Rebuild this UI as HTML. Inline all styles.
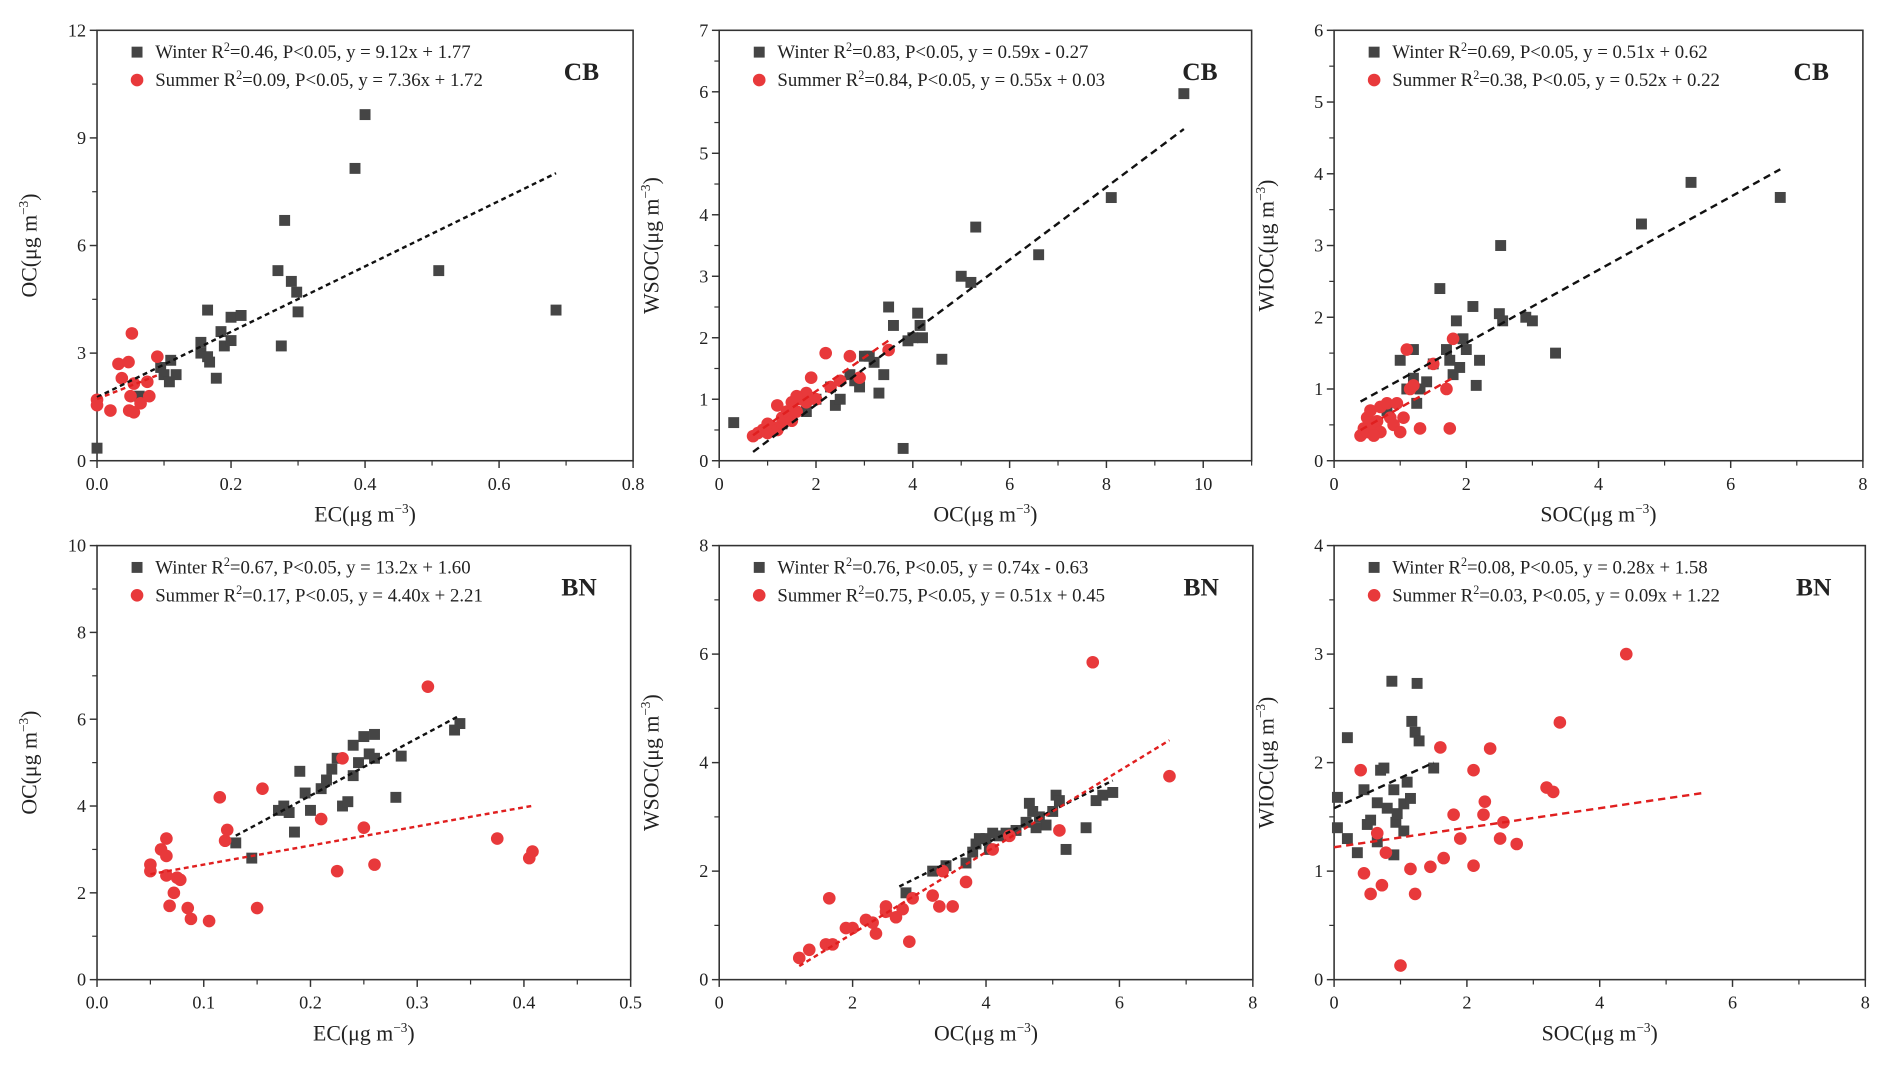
<!DOCTYPE html>
<html><head><meta charset="utf-8">
<style>
html,body{margin:0;padding:0;background:#fff;overflow:hidden}
#wrap{width:1560px;height:885px;transform-origin:0 0;transform:scale(1.21282,1.21243)}
svg text{font-family:"Liberation Serif",serif;fill:#222}
</style></head>
<body>
<div id="wrap">
<svg id="chart" width="1560" height="885" xmlns="http://www.w3.org/2000/svg"></svg>
</div>
<script>
// Panel 1 (CB OC vs EC)
const p1WinterX=[0.0,0.063,0.095,0.1,0.11,0.108,0.118,0.155,0.155,0.165,0.168,0.165,0.178,0.185,0.19,0.2,0.2,0.215,0.27,0.275,0.28,0.29,0.298,0.3,0.385,0.4,0.51,0.685];
const p1WinterY=[0.35,1.8,2.6,2.4,2.8,2.2,2.4,3.3,3.0,2.9,2.75,4.2,2.3,3.6,3.2,3.35,4.0,4.05,5.3,3.2,6.7,5.0,4.7,4.15,8.15,9.65,5.3,4.2];
const p1SummerX=[0.0,0.0,0.02,0.032,0.037,0.047,0.048,0.05,0.052,0.055,0.055,0.065,0.075,0.078,0.09];
const p1SummerY=[1.7,1.55,1.4,2.7,2.3,2.75,1.4,1.8,3.55,2.15,1.35,1.6,2.2,1.8,2.9];
const p1Fit=[[9.12,1.77,0,0.685],[7.36,1.72,0,0.09]];
// Panel 2 (CB WSOC vs OC)
const p2WinterX=[0.3,1.3,1.8,2.0,2.3,2.4,2.5,2.7,2.8,2.9,3.0,3.1,3.2,3.3,3.4,3.5,3.6,3.8,3.9,4.0,4.1,4.15,4.2,4.6,5.0,5.2,5.3,6.6,8.1,9.6];
const p2WinterY=[0.62,0.6,0.8,1.0,1.2,0.9,1.0,1.4,1.3,1.2,1.7,1.7,1.6,1.1,1.4,2.5,2.2,0.2,1.95,2.0,2.4,2.2,2.0,1.65,3.0,2.9,3.8,3.35,4.28,5.97];
const p2SummerX=[0.7,0.8,0.9,1.0,1.0,1.1,1.2,1.3,1.3,1.4,1.5,1.5,1.6,1.7,1.8,1.8,1.9,2.0,2.2,2.3,2.5,2.7,2.9,3.5,1.2,1.6];
const p2SummerY=[0.4,0.45,0.5,0.6,0.45,0.55,0.5,0.6,0.7,0.8,0.65,0.95,0.8,1.0,1.1,0.95,1.35,1.0,1.75,1.2,1.3,1.7,1.35,1.8,0.9,1.05];
const p2Fit=[[0.59,-0.27,0.7,9.6],[0.55,0.03,0.7,3.5]];
// Panel 3 (CB WIOC vs SOC)
const p3WinterX=[1.0,1.1,1.2,1.25,1.3,1.4,1.5,1.6,1.7,1.75,1.8,1.85,1.9,1.95,2.0,2.1,2.15,2.2,2.5,2.52,2.55,2.9,3.0,3.35,4.65,5.4,6.75,0.8,1.2];
const p3WinterY=[1.4,1.0,1.55,0.8,1.0,1.1,1.35,2.4,1.55,1.4,1.2,1.95,1.3,1.7,1.55,2.15,1.05,1.4,2.05,3.0,1.95,2.0,1.95,1.5,3.3,3.88,3.67,0.7,1.15];
const p3SummerX=[0.4,0.45,0.5,0.5,0.55,0.6,0.65,0.7,0.7,0.8,0.85,0.9,0.95,1.0,1.05,1.1,1.15,1.2,1.3,1.5,1.7,1.75,1.8,0.6];
const p3SummerY=[0.35,0.45,0.6,0.4,0.7,0.5,0.55,0.4,0.75,0.8,0.6,0.5,0.8,0.4,0.6,1.55,1.0,1.05,0.45,1.35,1.0,0.45,1.7,0.35];
const p3Fit=[[0.51,0.62,0.4,6.75],[0.52,0.22,0.4,1.8]];
// Panel 4 (BN OC vs EC)
const p4WinterX=[0.13,0.145,0.17,0.175,0.18,0.185,0.19,0.195,0.2,0.21,0.22,0.225,0.23,0.235,0.24,0.24,0.245,0.25,0.255,0.26,0.26,0.28,0.285,0.335,0.34,0.215];
const p4WinterY=[3.15,2.8,3.9,4.0,3.85,3.4,4.8,4.3,3.9,4.4,4.85,5.1,4.0,4.1,4.7,5.4,5.0,5.6,5.2,5.65,5.1,4.2,5.15,5.75,5.9,4.6];
const p4SummerX=[0.05,0.05,0.06,0.065,0.065,0.065,0.068,0.072,0.075,0.078,0.085,0.088,0.105,0.115,0.12,0.122,0.15,0.155,0.21,0.225,0.23,0.25,0.26,0.31,0.375,0.405,0.408];
const p4SummerY=[2.65,2.5,3.0,3.25,2.85,2.4,1.7,2.0,2.35,2.3,1.65,1.4,1.35,4.2,3.2,3.45,1.65,4.4,3.7,2.5,5.1,3.5,2.65,6.75,3.25,2.8,2.95];
const p4Fit=[[13.2,1.60,0.13,0.34],[4.40,2.21,0.05,0.41]];
// Panel 5 (BN WSOC vs OC)
const p5WinterX=[2.8,3.2,3.4,3.7,3.8,3.85,3.9,4.0,4.05,4.1,4.2,4.3,4.45,4.6,4.65,4.7,4.8,4.9,5.0,5.05,5.1,5.2,5.5,5.65,5.75,5.9,4.75];
const p5WinterY=[1.6,2.0,2.1,2.15,2.35,2.5,2.6,2.6,2.4,2.7,2.65,2.7,2.75,2.9,3.25,3.1,3.0,2.85,3.1,3.4,3.3,2.4,2.8,3.3,3.4,3.45,2.8];
const p5SummerX=[1.2,1.35,1.6,1.65,1.7,2.0,2.2,2.3,2.35,2.5,2.5,2.65,2.75,2.85,2.9,3.2,3.3,3.35,3.5,3.7,4.1,4.35,5.1,5.6,6.75,1.9];
const p5SummerY=[0.4,0.55,0.65,1.5,0.65,0.95,1.1,1.05,0.85,1.35,1.25,1.15,1.3,0.7,1.5,1.55,1.35,2.0,1.35,1.8,2.4,2.65,2.75,5.85,3.75,0.95];
const p5Fit=[[0.61,0.07,2.7,5.9],[0.75,-0.65,1.2,6.75]];
// Panel 6 (BN WIOC vs SOC)
const p6WinterX=[0.05,0.05,0.2,0.2,0.35,0.45,0.5,0.55,0.65,0.65,0.7,0.75,0.8,0.87,0.9,0.9,0.93,0.95,1.05,1.05,1.1,1.15,1.17,1.22,1.25,1.28,1.5];
const p6WinterY=[1.68,1.4,2.23,1.3,1.17,1.75,1.43,1.47,1.63,1.27,1.93,1.95,1.58,2.75,1.15,1.75,1.45,1.53,1.37,1.62,1.82,1.67,2.38,2.28,2.73,2.2,1.95];
const p6SummerX=[0.4,0.45,0.55,0.65,0.72,0.78,1.0,1.15,1.22,1.45,1.65,1.6,1.8,1.9,2.1,2.1,2.25,2.27,2.35,2.5,2.55,2.75,3.2,3.3,3.4,4.4];
const p6SummerY=[1.93,0.98,0.79,1.35,0.87,1.17,0.13,1.02,0.79,1.04,1.12,2.14,1.52,1.3,1.05,1.93,1.52,1.64,2.13,1.3,1.45,1.25,1.77,1.73,2.37,3.0];
const p6Fit=[[0.28,1.58,0,1.5],[0.09,1.22,0,5.6]];

const xTicks1=["0.0","0.2","0.4","0.6","0.8"], yTicks1=["0","3","6","9","12"];
const xTicks2=["0","2","4","6","8","10"], yTicks2=["0","1","2","3","4","5","6","7"];
const xTicks3=["0","2","4","6","8"], yTicks3=["0","1","2","3","4","5","6"];
const xTicks4=["0.0","0.1","0.2","0.3","0.4","0.5"], yTicks4=["0","2","4","6","8","10"];
const xTicks5=["0","2","4","6","8"], yTicks5=["0","2","4","6","8"];
const xTicks6=["0","2","4","6","8"], yTicks6=["0","1","2","3","4"];

const NS="http://www.w3.org/2000/svg";
const svg=document.getElementById('chart');
function mk(tag,attrs,parent){const e=document.createElementNS(NS,tag);for(const k in attrs)e.setAttribute(k,attrs[k]);(parent||svg).appendChild(e);return e;}

const panels=[
 {id:'cb-oc-ec',x0:80,x1:522,yb:380,yt:25,xmax:0.8,ymax:12,xt:xTicks1,yt2:yTicks1,wx:p1WinterX,wy:p1WinterY,sx:p1SummerX,sy:p1SummerY,fit:p1Fit,dash:'4,3',xl:'EC',yl:'OC',site:'CB',
  leg:['Winter R','=0.46, P<0.05, y = 9.12x + 1.77','Summer R','=0.09, P<0.05, y = 7.36x + 1.72']},
 {id:'cb-wsoc-oc',x0:593,x1:1032,yb:380,yt:25,xmax:11,ymax:7,xt:xTicks2,yt2:yTicks2,wx:p2WinterX,wy:p2WinterY,sx:p2SummerX,sy:p2SummerY,fit:p2Fit,dash:'6,4',xl:'OC',yl:'WSOC',site:'CB',xstep:2,
  leg:['Winter R','=0.83, P<0.05, y = 0.59x - 0.27','Summer R','=0.84, P<0.05, y = 0.55x + 0.03']},
 {id:'cb-wioc-soc',x0:1100,x1:1536,yb:380,yt:25,xmax:8,ymax:6,xt:xTicks3,yt2:yTicks3,wx:p3WinterX,wy:p3WinterY,sx:p3SummerX,sy:p3SummerY,fit:p3Fit,dash:'6,4',xl:'SOC',yl:'WIOC',site:'CB',
  leg:['Winter R','=0.69, P<0.05, y = 0.51x + 0.62','Summer R','=0.38, P<0.05, y = 0.52x + 0.22']},
 {id:'bn-oc-ec',x0:80,x1:520,yb:808,yt:450,xmax:0.5,ymax:10,xt:xTicks4,yt2:yTicks4,wx:p4WinterX,wy:p4WinterY,sx:p4SummerX,sy:p4SummerY,fit:p4Fit,dash:'4,3',xl:'EC',yl:'OC',site:'BN',
  leg:['Winter R','=0.67, P<0.05, y = 13.2x + 1.60','Summer R','=0.17, P<0.05, y = 4.40x + 2.21']},
 {id:'bn-wsoc-oc',x0:593,x1:1033,yb:808,yt:450,xmax:8,ymax:8,xt:xTicks5,yt2:yTicks5,wx:p5WinterX,wy:p5WinterY,sx:p5SummerX,sy:p5SummerY,fit:p5Fit,dash:'4,3',xl:'OC',yl:'WSOC',site:'BN',
  leg:['Winter R','=0.76, P<0.05, y = 0.74x - 0.63','Summer R','=0.75, P<0.05, y = 0.51x + 0.45']},
 {id:'bn-wioc-soc',x0:1100,x1:1538,yb:808,yt:450,xmax:8,ymax:4,xt:xTicks6,yt2:yTicks6,wx:p6WinterX,wy:p6WinterY,sx:p6SummerX,sy:p6SummerY,fit:p6Fit,dash:'6,4',xl:'SOC',yl:'WIOC',site:'BN',
  leg:['Winter R','=0.08, P<0.05, y = 0.28x + 1.58','Summer R','=0.03, P<0.05, y = 0.09x + 1.22']}
];

panels.forEach(p=>{
 const g=mk('g',{});
 
 
 const xs=v=>p.x0+(p.x1-p.x0)*v/p.xmax;
 const ys=v=>p.yb-(p.yb-p.yt)*v/p.ymax;
 const frame=mk('rect',{x:p.x0,y:p.yt,width:p.x1-p.x0,height:p.yb-p.yt,fill:'none',stroke:'#333','stroke-width':1.3},g);
 
 
 // x ticks
 const xstep=parseFloat(p.xt[1])-parseFloat(p.xt[0]);
 p.xt.forEach((t,i)=>{
  const v=parseFloat(t), X=xs(v);
  mk('line',{x1:X,x2:X,y1:p.yb,y2:p.yb+6,stroke:'#333','stroke-width':1.2},g);
  const mv=v+xstep/2;
  if(mv<=p.xmax+1e-9){const MX=xs(mv);mk('line',{x1:MX,x2:MX,y1:p.yb,y2:p.yb+4,stroke:'#333','stroke-width':1},g);}
  const tx=mk('text',{x:X,y:p.yb+24,'font-size':15,'text-anchor':'middle'},g);tx.textContent=t;
  
  
 });
 const ystep=parseFloat(p.yt2[1])-parseFloat(p.yt2[0]);
 p.yt2.forEach(t=>{
  const v=parseFloat(t), Y=ys(v);
  mk('line',{x1:p.x0-6,x2:p.x0,y1:Y,y2:Y,stroke:'#333','stroke-width':1.2},g);
  const mv=v+ystep/2;
  if(mv<=p.ymax+1e-9){const MY=ys(mv);mk('line',{x1:p.x0-4,x2:p.x0,y1:MY,y2:MY,stroke:'#333','stroke-width':1},g);}
  const tx=mk('text',{x:p.x0-9,y:Y+5,'font-size':15,'text-anchor':'end'},g);tx.textContent=t;
  
  
 });
 // axis titles
 const xt=mk('text',{x:(p.x0+p.x1)/2,y:p.yb+50,'font-size':18,'text-anchor':'middle'},g);
 xt.innerHTML=p.xl+'(μg m<tspan dy="-7" font-size="11">−3</tspan><tspan dy="7">)</tspan>';
 
 
 const cy=(p.yb+p.yt)/2, cx=p.x0-50;
 const yt=mk('text',{x:cx,y:cy,'font-size':18,'text-anchor':'middle',transform:`rotate(-90 ${cx} ${cy})`},g);
 yt.innerHTML=p.yl+'(μg m<tspan dy="-7" font-size="11">−3</tspan><tspan dy="7">)</tspan>';
 
 
 // points
 p.wx.forEach((v,i)=>{
  const r=mk('rect',{x:xs(v)-4.5,y:ys(p.wy[i])-4.5,width:9,height:9,fill:'#454545'},g);
  
  
 });
 p.sx.forEach((v,i)=>{
  const c=mk('circle',{cx:xs(v),cy:ys(p.sy[i]),r:5.2,fill:'#e8393b'},g);
  
  
 });
 // fits
 p.fit.forEach((f,k)=>{
  const [m,b,a,z]=f;
  const l=mk('line',{x1:xs(a),y1:ys(m*a+b),x2:xs(z),y2:ys(m*z+b),stroke:k?'#e01f1f':'#111','stroke-width':2,'stroke-dasharray':p.dash},g);
  
  
 });
 // legend
 const lx=p.x0+33, ly=p.yt+18;
 const ls=mk('rect',{x:lx-4.5,y:ly-4.5,width:9,height:9,fill:'#454545'},g);
 
 
 const lc=mk('circle',{cx:lx,cy:ly+23,r:5.2,fill:'#e8393b'},g);
 
 
 const t1=mk('text',{x:lx+15,y:ly+5,'font-size':15.5},g);
 t1.innerHTML=p.leg[0]+'<tspan dy="-6" font-size="10">2</tspan><tspan dy="6">'+p.leg[1].replace(/</g,'&lt;')+'</tspan>';
 
 
 const t2=mk('text',{x:lx+15,y:ly+28,'font-size':15.5},g);
 t2.innerHTML=p.leg[2]+'<tspan dy="-6" font-size="10">2</tspan><tspan dy="6">'+p.leg[3].replace(/</g,'&lt;')+'</tspan>';
 
 
 const st=mk('text',{x:p.x1-28,y:p.yt+41,'font-size':21,'font-weight':'bold','text-anchor':'end',fill:'#111'},g);
 st.textContent=p.site;
 
 
});
</script>
</body></html>
